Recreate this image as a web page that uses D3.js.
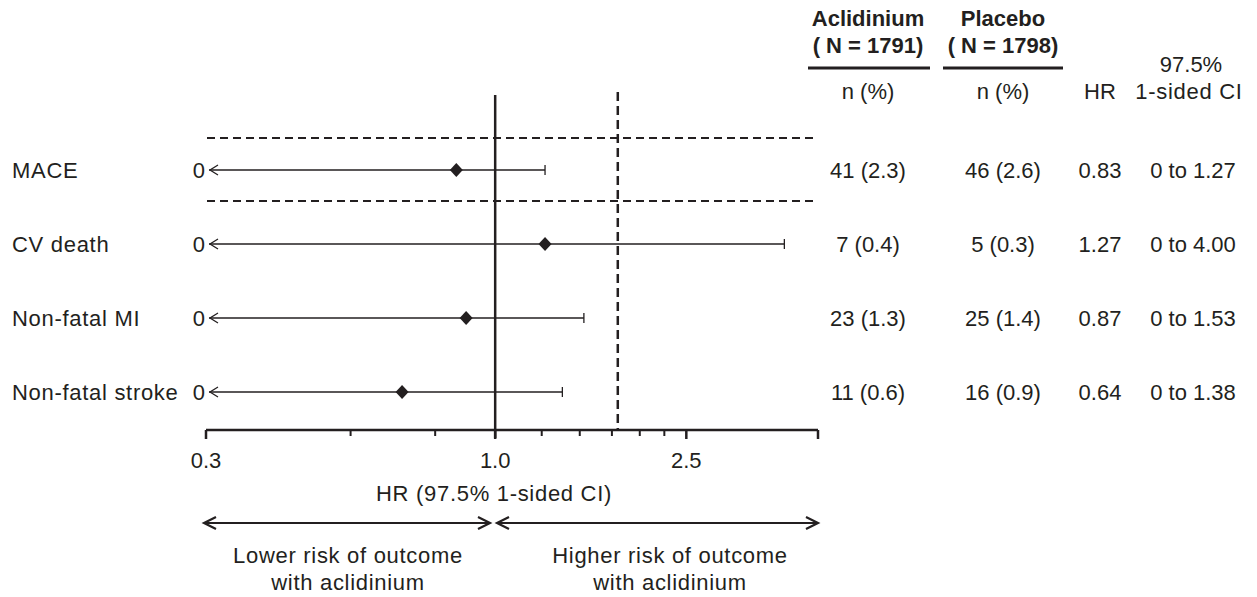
<!DOCTYPE html>
<html>
<head>
<meta charset="utf-8">
<script src="https://cdn.jsdelivr.net/npm/d3@7"></script>
<style>
  html, body { margin: 0; padding: 0; background: #fff; }
  svg { display: block; }
  text { font-family: "Liberation Sans", Arial, Helvetica, sans-serif; fill: #231f20; }
  .words { letter-spacing: 0.7px; }
</style>
</head>
<body>
<svg id="chart" width="1257" height="597"></svg>
<script>
// Outcomes and results
const outcomes = ["MACE", "CV death", "Non-fatal MI", "Non-fatal stroke"];
const hr = [0.83, 1.27, 0.87, 0.64];
const ciUpper = [1.27, 4.00, 1.53, 1.38];
const ciLowerLabel = ["0", "0", "0", "0"];
const aclN = [41, 7, 23, 11];
const aclPct = [2.3, 0.4, 1.3, 0.6];
const plaN = [46, 5, 25, 16];
const plaPct = [2.6, 0.3, 1.4, 0.9];

// Axis
const axisDomain = [0.25, 4.7];
const minorTicks = [0.5, 0.75, 1.25, 1.5, 1.75, 2.0, 2.25];
const majorTicks = [0.25, 1.0, 2.5, 4.7];
const majorTickLabels = ["0.3", "1.0", "2.5", ""];
const referenceHR = 1.0;
const marginHR = 1.8;

const ink = "#231f20";
const fs = 22;
const svg = d3.select("#chart");

const x = d3.scaleLog().domain(axisDomain).range([206, 818]);
const y = d3.scalePoint().domain(outcomes).range([170, 392]);

// Header
const hdr = svg.append("g").attr("font-size", fs);
[
  { cx: 868, t1: "Aclidinium", t2: "( N = 1791)", x0: 808, x1: 930 },
  { cx: 1003, t1: "Placebo", t2: "( N = 1798)", x0: 943, x1: 1063 }
].forEach(h => {
  hdr.append("text").attr("x", h.cx).attr("y", 26).attr("text-anchor", "middle")
    .attr("font-weight", "bold").text(h.t1);
  hdr.append("text").attr("x", h.cx).attr("y", 53).attr("text-anchor", "middle")
    .attr("font-weight", "bold").text(h.t2);
  hdr.append("line").attr("x1", h.x0).attr("x2", h.x1).attr("y1", 68).attr("y2", 68)
    .attr("stroke", ink).attr("stroke-width", 3);
  hdr.append("text").attr("x", h.cx).attr("y", 99).attr("text-anchor", "middle").text("n (%)");
});
hdr.append("text").attr("x", 1100).attr("y", 99).attr("text-anchor", "middle").text("HR");
hdr.append("text").attr("x", 1191).attr("y", 72).attr("text-anchor", "middle").text("97.5%");
hdr.append("text").attr("x", 1189).attr("y", 99).attr("text-anchor", "middle").attr("class", "words").text("1-sided CI");

// Dashed separators around the composite endpoint
[138, 201].forEach(yy => {
  svg.append("line").attr("x1", 207).attr("x2", 818).attr("y1", yy).attr("y2", yy)
    .attr("stroke", ink).attr("stroke-width", 2).attr("stroke-dasharray", "8,5");
});

// Reference lines
svg.append("line").attr("x1", x(referenceHR)).attr("x2", x(referenceHR))
  .attr("y1", 95).attr("y2", 438).attr("stroke", ink).attr("stroke-width", 2.5);
svg.append("line").attr("x1", x(marginHR)).attr("x2", x(marginHR))
  .attr("y1", 92).attr("y2", 430).attr("stroke", ink).attr("stroke-width", 2.5)
  .attr("stroke-dasharray", "9,5");

// Axis
const axisY = 430;
const ax = svg.append("g");
ax.append("line").attr("x1", x(axisDomain[0])).attr("x2", x(axisDomain[1]))
  .attr("y1", axisY).attr("y2", axisY).attr("stroke", ink).attr("stroke-width", 2.5);
ax.selectAll(".minor").data(minorTicks).join("line")
  .attr("x1", d => x(d)).attr("x2", d => x(d)).attr("y1", axisY).attr("y2", axisY + 6)
  .attr("stroke", ink).attr("stroke-width", 2);
ax.selectAll(".major").data(majorTicks).join("line")
  .attr("x1", d => x(d)).attr("x2", d => x(d)).attr("y1", axisY).attr("y2", axisY + 9)
  .attr("stroke", ink).attr("stroke-width", 2.5);
ax.selectAll(".lab").data(majorTicks).join("text")
  .attr("x", d => x(d)).attr("y", 468).attr("text-anchor", "middle")
  .attr("font-size", fs).text((d, i) => majorTickLabels[i]);
svg.append("text").attr("x", 494).attr("y", 501).attr("text-anchor", "middle")
  .attr("font-size", fs).attr("class", "words").text("HR (97.5% 1-sided CI)");

// Rows
const rows = svg.append("g").attr("font-size", fs);
outcomes.forEach((name, i) => {
  const yy = y(name);
  rows.append("text").attr("x", 12).attr("y", yy + 8).attr("class", "words").text(name);
  rows.append("text").attr("x", 205).attr("y", yy + 8).attr("text-anchor", "end").text(ciLowerLabel[i]);
  // CI line running to zero on the left
  rows.append("line").attr("x1", 209).attr("x2", x(ciUpper[i])).attr("y1", yy).attr("y2", yy)
    .attr("stroke", ink).attr("stroke-width", 1.3);
  rows.append("path").attr("d", `M${218},${yy - 5}L${210},${yy}L${218},${yy + 5}`)
    .attr("fill", "none").attr("stroke", ink).attr("stroke-width", 1.3);
  rows.append("line").attr("x1", x(ciUpper[i])).attr("x2", x(ciUpper[i]))
    .attr("y1", yy - 5).attr("y2", yy + 5).attr("stroke", ink).attr("stroke-width", 1.3);
  const cx = x(hr[i]);
  rows.append("path").attr("d", `M${cx},${yy - 7}L${cx + 6.5},${yy}L${cx},${yy + 7}L${cx - 6.5},${yy}Z`)
    .attr("fill", ink);
  rows.append("text").attr("x", 868).attr("y", yy + 8).attr("text-anchor", "middle")
    .text(`${aclN[i]} (${aclPct[i].toFixed(1)})`);
  rows.append("text").attr("x", 1003).attr("y", yy + 8).attr("text-anchor", "middle")
    .text(`${plaN[i]} (${plaPct[i].toFixed(1)})`);
  rows.append("text").attr("x", 1100).attr("y", yy + 8).attr("text-anchor", "middle")
    .text(hr[i].toFixed(2));
  rows.append("text").attr("x", 1193).attr("y", yy + 8).attr("text-anchor", "middle")
    .text(`0 to ${ciUpper[i].toFixed(2)}`);
});

// Direction arrows
function dblArrow(x0, x1, yy) {
  const g = svg.append("g").attr("stroke", ink).attr("fill", "none").attr("stroke-width", 2.2);
  g.append("line").attr("x1", x0 + 1).attr("x2", x1 - 1).attr("y1", yy).attr("y2", yy);
  g.append("path").attr("d", `M${x0 + 12},${yy - 6}L${x0},${yy}L${x0 + 12},${yy + 6}`);
  g.append("path").attr("d", `M${x1 - 12},${yy - 6}L${x1},${yy}L${x1 - 12},${yy + 6}`);
}
dblArrow(204, 490, 523);
dblArrow(497, 818, 523);
const notes = svg.append("g").attr("font-size", fs).attr("text-anchor", "middle").attr("class", "words");
notes.append("text").attr("x", 348).attr("y", 563).text("Lower risk of outcome");
notes.append("text").attr("x", 348).attr("y", 590).text("with aclidinium");
notes.append("text").attr("x", 670).attr("y", 563).text("Higher risk of outcome");
notes.append("text").attr("x", 670).attr("y", 590).text("with aclidinium");
</script>
</body>
</html>
